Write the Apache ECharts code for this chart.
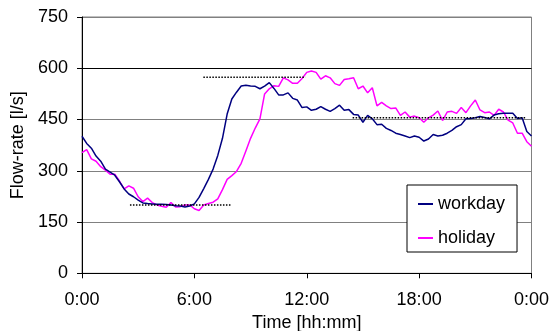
<!DOCTYPE html>
<html>
<head>
<meta charset="utf-8">
<script src="https://cdn.jsdelivr.net/npm/echarts@6/dist/echarts.min.js"></script>
<style>
html,body{margin:0;padding:0;background:#fff;}
#chart{width:551px;height:331px;}
</style>
</head>
<body>
<div id="chart"></div>
<script>
// time step in hours between samples (15 min)
var stepHours = 0.25;
var xTicks = ['0:00', '6:00', '12:00', '18:00', '0:00'];
var yTicks = [0, 150, 300, 450, 600, 750];

var workday = [
  401, 380, 366, 343, 328, 305, 296, 287, 268, 247, 232, 224, 214, 206, 204, 203,
  202, 202, 201, 200, 198, 197, 194, 197, 203, 222, 248, 275, 305, 345, 395, 466,
  510, 530, 548, 550, 548, 547, 540, 548, 558, 541, 522, 522, 528, 512, 507, 485,
  487, 477, 480, 488, 480, 474, 482, 492, 477, 479, 465, 463, 442, 462, 452, 435,
  436, 424, 418, 410, 406, 402, 397, 402, 398, 387, 393, 406, 402, 404, 410, 418,
  429, 435, 452, 453, 455, 459, 456, 452, 463, 467, 468, 468, 468, 453, 455, 415,
  402
];
var holiday = [
  353, 362, 335, 328, 312, 302, 290, 290, 270, 247, 256, 249, 224, 210, 220, 207,
  200, 196, 193, 207, 194, 195, 200, 200, 189, 184, 200, 204, 208, 218, 245, 275,
  286, 298, 322, 358, 395, 425, 452, 525, 540, 549, 547, 572, 566, 556, 556, 570,
  588, 592, 588, 568, 578, 572, 555, 550, 567, 569, 572, 540, 548, 528, 543, 490,
  500, 490, 482, 484, 462, 472, 457, 460, 455, 442, 455, 463, 475, 447, 472, 474,
  468, 485, 470, 490, 507, 478, 470, 472, 462, 480, 472, 448, 440, 410, 410, 385,
  372
];
// dotted reference levels: [startHour, endHour, level]
var refNight = [2.56, 8.0, 200];
var refDay = [6.48, 11.93, 574];
var refEvening = [14.45, 23.7, 455];

function toPairs(arr) {
  return arr.map(function (v, i) { return [i * stepHours, v]; });
}
function refSeries(r) {
  return {
    type: 'line', silent: true, symbol: 'none', z: 5,
    data: [[r[0], r[2]], [r[1], r[2]]],
    lineStyle: { color: '#000', width: 1.5, type: [1.5, 1.5] }
  };
}

var font = 'Liberation Sans, Arial, sans-serif';
var chart = echarts.init(document.getElementById('chart'), null, { renderer: 'canvas' });
chart.setOption({
  animation: false,
  backgroundColor: '#fff',
  textStyle: { fontFamily: font, color: '#000' },
  grid: { left: 82, right: 19.5, top: 17, bottom: 57.7, containLabel: false, outerBoundsMode: 'none',
    show: true, borderColor: '#808080', borderWidth: 1, backgroundColor: 'transparent' },
  legend: {
    data: ['workday', 'holiday'],
    orient: 'vertical',
    left: 407, top: 185,
    padding: [10, 12, 5, 11],
    itemGap: 16,
    itemWidth: 15, itemHeight: 2,
    icon: 'rect',
    backgroundColor: '#fff',
    borderColor: '#000', borderWidth: 1,
    textStyle: { fontFamily: font, fontSize: 18, color: '#000', padding: [0, 0, 0, 0] }
  },
  xAxis: {
    type: 'value', min: 0, max: 24, interval: 6,
    name: 'Time [hh:mm]', nameLocation: 'middle', nameGap: 39,
    nameTextStyle: { fontFamily: font, fontSize: 18, color: '#000' },
    axisLine: { lineStyle: { color: '#000', width: 1 } },
    axisTick: { show: true, length: 5, lineStyle: { color: '#000' } },
    axisLabel: { fontFamily: font, fontSize: 18, color: '#000', margin: 18,
      formatter: function (v) { return xTicks[Math.round(v / 6)]; } },
    splitLine: { show: false }
  },
  yAxis: {
    type: 'value', min: yTicks[0], max: yTicks[yTicks.length - 1], interval: 150,
    name: 'Flow-rate [l/s]', nameLocation: 'middle', nameGap: 50, nameRotate: 90,
    nameTextStyle: { fontFamily: font, fontSize: 18, color: '#000' },
    axisLine: { show: true, lineStyle: { color: '#000', width: 1 } },
    axisTick: { show: true, length: 5, lineStyle: { color: '#000' } },
    axisLabel: { fontFamily: font, fontSize: 18, color: '#000', margin: 14 },
    splitLine: { show: true, lineStyle: { color: ['#000', '#808080', '#808080', '#808080', '#000', '#808080'], width: 1 } }
  },
  series: [
    refSeries(refNight),
    refSeries(refDay),
    refSeries(refEvening),
    {
      name: 'workday', type: 'line', symbol: 'none', z: 3,
      data: toPairs(workday),
      color: '#000080',
      lineStyle: { color: '#000080', width: 1.5 }
    },
    {
      name: 'holiday', type: 'line', symbol: 'none', z: 2,
      data: toPairs(holiday),
      color: '#FF00FF',
      lineStyle: { color: '#FF00FF', width: 1.5 }
    }
  ]
});
</script>
</body>
</html>
